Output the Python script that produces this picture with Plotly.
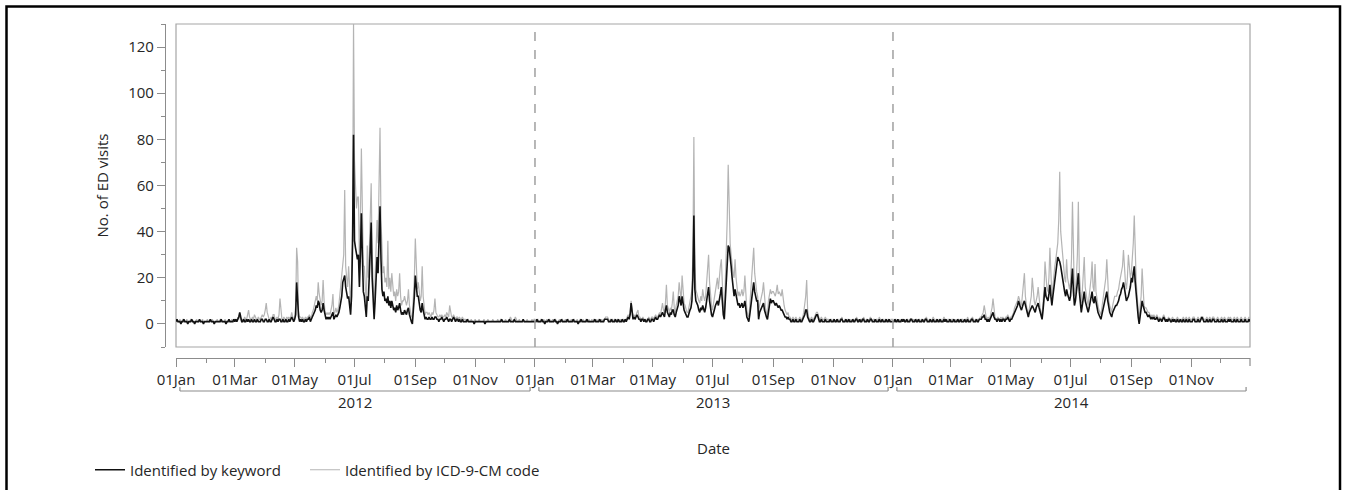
import pandas as pd
import plotly.graph_objects as go

# ---------------- data (daily counts) ----------------
kw_2012 = [
    1,2,1,1,1,0,1,1,2,1, 1,1,0,1,1,1,2,1,1,0, 1,1,1,1,2,1,1,1,0,1,
    1,1,1,1,1,2,1,1,1,0, 1,1,1,1,1,1,2,1,1,1, 1,0,1,1,2,1,1,1,1,2,
    1,2,1,2,3,5,2,1,1,2, 1,1,2,1,2,1,1,2,1,1, 2,1,1,2,1,1,1,2,2,1,
    1,2,2,1,1,2,1,1,2,3, 2,1,1,2,1,2,2,1,1,2, 1,1,2,1,1,2,1,2,3,2,
    1,2,4,18,8,3,1,2,1,2, 1,1,2,1,2,2,3,1,2,3, 4,5,6,8,7,10,9,6,5,6,
    9,6,3,2,3,2,3,2,3,4, 5,2,3,4,3,4,5,7,9,12, 18,20,21,16,13,11,12,6,4,12,
    35,82,36,33,30,28,30,16,30,48, 30,14,12,6,3,12,10,20,35,44, 20,6,2,10,18,29,22,35,51,28,
    15,12,14,10,11,9,12,8,10,7, 10,8,6,7,5,8,6,7,9,6, 4,5,4,6,5,4,6,7,4,2,
    1,0,5,12,21,16,12,12,8,6, 5,9,6,3,2,3,2,2,3,2, 2,3,2,2,3,3,2,2,1,2,
    2,3,2,1,2,2,3,2,1,2, 2,1,2,3,2,1,2,2,1,2, 1,1,2,1,1,1,1,2,1,1,
    1,1,1,1,0,1,1,1,1,1, 1,1,1,1,1,0,1,1,1,1, 1,1,1,1,1,1,1,1,1,1,
    1,1,2,1,1,1,1,1,1,1, 2,1,1,1,1,2,1,1,1,1, 1,1,1,1,2,1,1,1,1,1, 1,1,1,1,1,1,
]
icd_2012 = [
    2,2,1,1,2,1,1,2,2,1, 1,2,1,1,1,2,2,1,1,1, 1,2,1,1,2,1,1,2,1,1,
    1,1,2,1,1,2,1,2,1,1, 1,1,2,1,1,2,2,1,1,1, 2,1,1,1,2,1,1,2,1,2,
    2,2,1,3,2,4,2,1,2,2, 3,2,2,4,6,3,2,2,3,2, 4,3,2,2,3,2,2,3,4,3,
    4,6,9,5,3,2,2,3,2,4, 4,2,2,3,2,4,11,4,2,2, 3,2,2,3,2,3,2,3,5,3,
    2,3,8,33,27,5,3,3,2,3, 2,2,3,2,3,3,4,3,3,5, 6,8,10,12,10,18,13,9,8,10,
    19,10,5,4,5,4,5,4,6,8, 13,4,5,7,5,6,8,12,15,20, 25,30,58,25,20,16,25,12,8,20,
    40,130,71,60,50,55,55,28,45,76, 50,25,25,12,8,34,20,30,50,61, 30,10,5,20,30,45,35,60,85,45,
    30,22,25,18,20,16,36,15,20,14, 22,15,12,14,10,15,12,14,22,12, 8,10,10,12,9,8,10,15,8,5,
    3,3,10,20,37,25,15,18,12,10, 12,25,12,6,4,5,5,4,5,4, 3,5,4,6,11,5,4,3,3,4,
    3,4,3,3,4,3,5,4,3,8, 4,3,3,4,3,2,3,3,2,3, 2,2,3,2,2,2,1,2,2,1,
    1,2,1,1,1,2,1,1,1,2, 1,1,1,1,2,1,1,1,2,1, 1,1,1,2,1,1,1,1,2,1,
    1,2,2,1,1,1,2,1,1,1, 2,3,2,1,1,2,3,2,1,1, 2,1,1,1,2,1,1,1,2,1, 1,1,1,2,1,2,
]
kw_2013 = [
    1,1,2,1,1,1,1,2,1,1, 0,1,1,1,2,1,1,1,1,1, 2,1,1,0,1,1,1,2,1,1,
    1,1,1,2,1,1,1,1,1,2, 1,1,1,1,0,1,1,2,1,1, 1,1,1,2,1,1,1,1,1,1,
    1,2,1,1,1,1,2,1,1,1, 1,2,2,2,2,1,1,1,2,1, 1,1,2,1,1,2,1,1,1,2,
    1,1,2,1,2,3,2,4,9,4, 2,3,2,3,4,3,2,2,1,2, 2,1,2,1,1,2,2,1,1,2,
    2,1,2,3,2,2,3,4,3,4, 5,4,3,6,8,5,4,3,5,4, 6,6,4,3,5,7,8,12,10,8,
    12,8,6,5,4,3,3,5,6,7, 10,20,47,15,10,9,8,6,5,7, 6,8,6,5,7,10,12,16,10,6,
    4,3,5,7,8,9,10,8,12,13, 16,9,4,2,10,20,28,34,33,30, 25,20,16,12,15,12,10,8,9,7,
    8,9,7,8,10,6,3,2,1,4, 8,12,14,18,14,12,10,10,2,5, 6,7,8,9,6,4,3,2,6,9,
    11,9,10,10,9,8,9,8,7,8, 7,6,6,5,4,3,3,2,3,2, 2,1,1,2,1,1,2,1,1,1,
    2,1,1,2,3,4,6,6,3,2, 1,1,2,1,1,2,3,4,4,2, 1,1,2,1,1,1,2,1,1,1,
    1,2,1,1,1,2,1,1,2,1, 1,1,2,2,1,1,1,2,1,1, 2,1,1,1,2,1,1,2,2,1,
    1,2,1,1,2,2,1,1,1,2, 1,1,2,2,1,1,1,2,1,1, 1,2,1,1,2,1,1,1,2,1, 1,2,1,1,1,
]
icd_2013 = [
    2,1,2,2,1,1,2,2,1,2, 1,1,2,1,2,2,1,1,2,1, 2,2,1,1,1,2,1,2,2,1,
    1,2,1,2,2,1,1,2,1,2, 2,1,1,2,1,1,2,2,1,2, 1,1,2,2,1,2,1,1,2,1,
    2,2,1,2,1,2,2,1,2,1, 2,2,3,3,3,2,1,2,2,2, 1,2,2,1,2,2,1,2,1,2,
    2,1,2,2,3,4,3,5,10,5, 3,4,3,4,5,6,3,3,2,2, 3,2,2,2,1,2,3,2,2,3,
    3,2,3,4,3,3,4,5,4,6, 9,6,5,9,17,8,6,5,7,6, 9,14,7,5,8,10,12,18,12,10,
    21,12,9,8,6,5,5,7,9,12, 15,30,81,25,15,13,12,10,9,12, 10,15,12,10,12,18,22,30,18,10,
    8,6,9,12,14,16,20,15,22,25, 28,16,8,4,18,30,45,69,45,35, 30,25,22,20,28,20,16,12,14,12,
    13,15,12,14,21,12,6,4,3,8, 15,20,26,33,22,16,14,12,5,8, 10,12,14,18,10,7,5,4,10,13,
    15,13,14,14,13,12,14,17,13,14, 13,12,15,10,8,6,5,4,5,3, 3,2,2,3,2,2,3,2,2,2,
    3,2,2,3,5,8,12,19,6,3, 2,2,3,2,2,3,4,5,5,3, 2,2,3,2,2,2,3,2,2,2,
    1,2,2,1,2,2,1,1,2,2, 1,2,2,3,1,1,2,2,1,2, 2,1,2,1,2,2,1,2,3,1,
    2,1,2,2,1,3,2,1,2,2, 1,2,3,2,1,2,2,1,2,2, 1,3,2,1,2,2,1,2,2,1, 2,2,1,2,2,
]
kw_2014 = [
    1,1,2,1,1,2,1,1,1,2, 1,2,1,1,2,1,1,1,2,2, 1,1,1,2,1,1,2,1,1,1,
    2,1,1,2,2,1,1,1,2,1, 1,2,1,1,1,2,1,1,2,1, 1,1,2,1,2,1,1,1,2,1,
    1,1,2,1,1,1,2,1,1,2, 1,1,1,2,1,1,2,1,1,1, 2,2,1,1,1,2,1,1,2,2,
    2,3,3,4,2,2,1,2,1,2, 3,4,5,3,2,2,1,2,2,1, 2,1,2,2,1,2,2,3,2,1,
    2,2,3,4,5,6,7,8,10,8, 7,6,8,9,10,8,6,4,3,5, 6,7,8,7,6,5,7,8,9,7,
    5,3,2,6,10,16,12,11,10,13, 17,12,8,12,16,20,22,25,29,28, 27,25,22,18,16,14,12,15,13,11,
    10,12,18,24,14,8,10,14,18,22, 14,8,5,8,11,14,10,8,6,5, 7,10,12,14,10,9,12,9,7,5,
    4,3,2,4,6,8,10,12,14,10, 7,5,4,3,5,6,7,8,8,9, 10,12,13,15,16,18,15,12,10,11,
    12,14,16,20,18,22,25,18,12,8, 3,0,4,7,10,8,6,5,5,4, 3,4,3,2,3,2,3,2,2,3,
    2,1,2,2,1,2,3,2,1,2, 1,2,2,1,1,2,1,2,1,1, 2,1,1,2,1,1,2,1,1,2,
    1,1,2,1,1,1,2,2,1,1, 1,2,1,1,2,3,2,1,1,1, 2,1,1,2,1,1,2,2,1,1,
    1,2,1,1,1,2,1,1,2,1, 1,1,2,1,2,1,1,1,2,1, 1,2,1,1,1,2,1,1,1,2, 1,1,1,2,1,
]
icd_2014 = [
    2,1,2,2,1,2,1,2,1,2, 2,2,1,1,2,2,1,2,2,2, 1,2,1,2,2,1,2,2,1,2,
    2,1,2,2,3,2,1,2,2,1, 2,3,2,1,2,2,1,2,2,2, 1,2,3,2,2,1,2,2,2,1,
    2,2,2,1,2,1,2,2,1,2, 2,2,1,2,2,1,3,2,1,2, 2,3,2,1,2,2,2,1,2,3,
    3,4,5,8,4,3,2,3,2,3, 5,7,11,5,3,2,2,3,2,2, 3,2,3,2,2,3,3,4,3,2,
    3,3,4,5,7,8,9,10,12,10, 9,8,12,16,22,12,8,5,4,7, 9,12,20,12,10,8,10,12,16,10,
    7,5,4,9,15,27,18,15,14,20, 33,18,12,16,22,25,28,32,35,45, 66,40,35,28,24,20,18,28,20,16,
    15,18,28,53,22,12,15,20,30,53, 22,12,9,14,20,29,16,12,10,8, 12,16,20,27,16,14,26,14,10,8,
    6,5,4,7,10,14,18,20,28,15, 10,8,6,5,8,10,12,12,12,14, 15,18,20,22,25,32,22,18,15,20,
    30,22,20,22,28,35,47,30,18,12, 5,1,8,12,24,12,8,7,7,6, 5,5,4,3,4,3,4,3,3,4,
    3,2,3,2,2,3,4,3,2,2, 2,3,2,2,2,3,2,2,2,2, 3,2,2,2,2,2,3,2,2,3,
    2,2,3,2,2,2,3,3,2,2, 2,3,2,2,3,3,3,2,2,2, 3,2,2,3,2,2,3,3,2,2,
    2,3,2,2,2,3,2,2,3,2, 2,2,3,2,3,2,2,2,3,2, 2,3,2,2,2,3,2,2,2,3, 2,2,2,3,2,
]

years = [2012, 2013, 2014]
series_kw = [kw_2012, kw_2013, kw_2014]
series_icd = [icd_2012, icd_2013, icd_2014]
name_kw = "Identified by keyword"
name_icd = "Identified by ICD-9-CM code"
y_title = "No. of ED visits"
x_title = "Date"

dates = []
kw = []
icd = []
for yr, k, c in zip(years, series_kw, series_icd):
    d = pd.date_range(f"{yr}-01-01", periods=len(k), freq="D")
    dates += list(d)
    kw += k
    icd += c

FONT = "Open Sans"
TXT = "#262626"
AX = "#8c8c8c"

fig = go.Figure()
fig.add_trace(go.Scatter(x=dates, y=icd, mode="lines", name=name_icd, legend="legend2",
                         line=dict(color="#b4b4b4", width=1.2)))
fig.add_trace(go.Scatter(x=dates, y=kw, mode="lines", name=name_kw, legend="legend",
                         line=dict(color="#111111", width=1.6)))

# plot geometry (pixels)
L, R, T, B = 165, 1250, 24, 358
W, H = R - L, B - T
def px(xp):
    return (xp - L) / W
def py(yp):
    return (B - yp) / H

leg_common = dict(orientation="h", y=py(470), xanchor="left", yanchor="middle",
                  font=dict(size=15, color=TXT), bgcolor="rgba(0,0,0,0)")

fig.update_layout(
    width=1346, height=490,
    margin=dict(l=L, r=1346 - R, t=T, b=490 - B, autoexpand=False),
    paper_bgcolor="white", plot_bgcolor="white",
    font=dict(family=FONT, size=15, color=TXT),
    showlegend=True,
    legend=dict(x=px(90), **leg_common),
    legend2=dict(x=px(305), **leg_common),
    xaxis=dict(
        type="date", domain=[11 / W, 1], anchor="free", position=0,
        range=["2012-01-01", "2014-12-31"],
        showline=True, linecolor=AX, linewidth=1.2,
        ticks="outside", ticklen=8, tickcolor=AX, tickwidth=1.2,
        tick0="2012-01-01", dtick="M2", tickformat="%d%b",
        tickfont=dict(size=15, color=TXT),
        minor=dict(ticks="outside", ticklen=4, tickcolor=AX, tickwidth=1.2,
                   dtick="M1", tick0="2012-01-01", showgrid=False),
        showgrid=False, zeroline=False,
    ),
    yaxis=dict(
        domain=[11 / H, 1], anchor="free", position=0,
        range=[-10, 130],
        showline=True, linecolor=AX, linewidth=1.2,
        ticks="outside", ticklen=8, tickcolor=AX, tickwidth=1.2,
        tick0=0, dtick=20, tickfont=dict(size=15, color=TXT),
        minor=dict(ticks="outside", ticklen=4, tickcolor=AX, tickwidth=1.2,
                   dtick=10, tick0=0, showgrid=False),
        showgrid=False, zeroline=False,
        title=dict(text=y_title, font=dict(size=15, color=TXT), standoff=14),
    ),
)

shapes = []
# plot frame
shapes.append(dict(type="rect", xref="x domain", yref="y domain", x0=0, x1=1, y0=0, y1=1,
                   line=dict(color="#a6a6a6", width=1.2), layer="below"))
# year separators
for yr in years[1:]:
    shapes.append(dict(type="line", xref="x", yref="y domain", x0=f"{yr}-01-01", x1=f"{yr}-01-01",
                       y0=0, y1=1, line=dict(color="#a0a0a0", width=1.5, dash="dash")))
# axis end cap at the right end of the date axis
shapes.append(dict(type="line", xref="x domain", yref="paper", x0=1, x1=1, y0=0, y1=py(366),
                   line=dict(color=AX, width=1.2)))
# year brackets
yb, yh = py(391), py(387)
for yr in years:
    a, b = f"{yr}-01-05", f"{yr}-12-27"
    shapes.append(dict(type="line", xref="x", yref="paper", x0=a, x1=b, y0=yb, y1=yb,
                       line=dict(color=AX, width=1.2)))
    for e in (a, b):
        shapes.append(dict(type="line", xref="x", yref="paper", x0=e, x1=e, y0=yb, y1=yh,
                           line=dict(color=AX, width=1.2)))
# outer border
shapes.append(dict(type="rect", xref="paper", yref="paper", x0=px(6.5), x1=px(1340),
                   y0=py(500), y1=py(6.5), line=dict(color="black", width=2.5)))
fig.update_layout(shapes=shapes)

ann = []
for yr in years:
    ann.append(dict(x=f"{yr}-07-02", y=py(402), xref="x", yref="paper", text=str(yr),
                    showarrow=False, xanchor="center", yanchor="middle",
                    font=dict(size=15, color=TXT)))
ann.append(dict(x=px(713), y=py(448), xref="paper", yref="paper", text=x_title,
                showarrow=False, xanchor="center", yanchor="middle",
                font=dict(size=15, color=TXT)))
fig.update_layout(annotations=ann)

fig.write_html("out.html", config={"displayModeBar": False},
               post_script="document.body.style.margin='0px';document.body.style.overflow='hidden';")
